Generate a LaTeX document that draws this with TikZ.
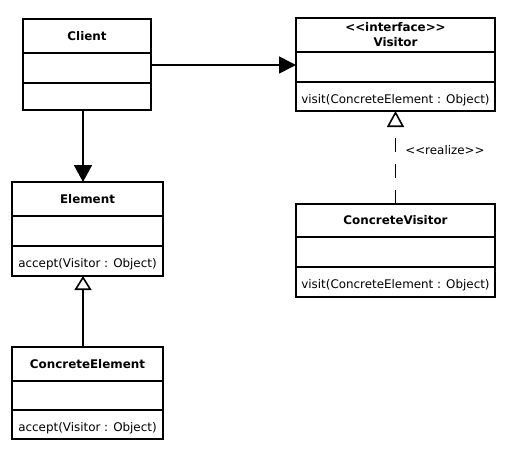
\documentclass[tikz,border=0pt]{standalone}
\usepackage{fontspec}
\setmainfont{DejaVu Sans}
\usetikzlibrary{positioning,arrows.meta}

% << >> sans ligature
\newcommand{\stereo}[1]{<\kern0pt<#1>\kern0pt>}

\tikzset{
  nomclasse/.style={draw, line width=1.6pt, inner sep=0pt, outer sep=0pt,
    anchor=north west, minimum width=#1, minimum height=34pt, align=center,
    font=\bfseries\fontsize{11.9}{15}\selectfont},
  partie/.style={draw, line width=1.6pt, inner sep=0pt, outer sep=0pt,
    anchor=north, minimum width=#1, text height=15.5pt, text depth=2.5pt,
    font=\fontsize{11.9}{14}\selectfont},
  lien/.style={line width=1.6pt},
}

\begin{document}
\begin{tikzpicture}[x=1pt, y=-1pt]
    \useasboundingbox (0,0) rectangle (515,458);

    % Client
    \node[nomclasse=128pt] (client) at (23,19) {Client};
    \node[partie=128pt, minimum height=30pt, below=0pt of client] (client-attr) {};
    \node[partie=128pt, minimum height=27pt, below=0pt of client-attr] (client-ops) {};

    % Visitor
    \node[nomclasse=199pt] (visitor) at (296,18) {\stereo{interface}\\Visitor};
    \node[partie=199pt, minimum height=30pt, below=0pt of visitor] (visitor-attr) {};
    \node[partie=199pt, minimum height=29pt, below=0pt of visitor-attr] (visitor-ops) {visit(ConcreteElement : Object)};

    % Element
    \node[nomclasse=151pt] (element) at (12,182) {Element};
    \node[partie=151pt, minimum height=30pt, below=0pt of element] (element-attr) {};
    \node[partie=151pt, minimum height=30pt, below=0pt of element-attr] (element-ops) {accept(Visitor : Object)};

    % ConcreteElement
    \node[nomclasse=151pt] (celement) at (12,347) {ConcreteElement};
    \node[partie=151pt, minimum height=29pt, below=0pt of celement] (celement-attr) {};
    \node[partie=151pt, minimum height=29pt, below=0pt of celement-attr] (celement-ops) {accept(Visitor : Object)};

    % ConcreteVisitor
    \node[nomclasse=199pt, minimum height=33pt] (cvisitor) at (296,204) {ConcreteVisitor};
    \node[partie=199pt, minimum height=30pt, below=0pt of cvisitor] (cvisitor-attr) {};
    \node[partie=199pt, minimum height=30pt, below=0pt of cvisitor-attr] (cvisitor-ops) {visit(ConcreteElement : Object)};

    % Associations
    \draw[lien, -{Triangle[length=17pt, width=17pt]}] ([yshift=3pt]client-attr.east) -- ([yshift=2pt]visitor-attr.west);
    \draw[lien, -{Triangle[length=17pt, width=18pt]}] ([xshift=-4pt]client-ops.south) -- ([xshift=-4.5pt]element.north);

    % Héritage et réalisation
    \draw[lien, -{Triangle[open, length=14pt, width=17pt]}] ([xshift=-4.5pt]celement.north) -- ([xshift=-4.5pt]element-ops.south);
    \draw[lien, dash pattern=on 14pt off 12pt, -{Triangle[open, length=16pt, width=17pt]}] (cvisitor.north)
        -- node[pos=0.58, anchor=west, xshift=9pt, inner sep=0pt, font=\fontsize{11.9}{14}\selectfont] (realize) {\stereo{realize}} (visitor-ops.south);
\end{tikzpicture}
\end{document}
